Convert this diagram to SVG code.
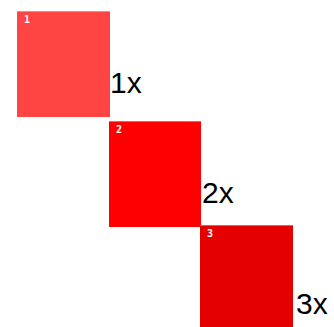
<svg xmlns="http://www.w3.org/2000/svg" width="334" height="327" viewBox="0 0 334 327">
<style>
.num{font-family:"DejaVu Sans Mono","Liberation Mono",monospace;font-weight:bold;font-size:10px;fill:#ffffff}
.lbl{font-family:"Liberation Sans",Arial,sans-serif;font-size:30px;fill:#000000}
.edge{stroke:#ffffff;stroke-opacity:0.35;stroke-width:1;fill:none}
</style>
<rect width="334" height="327" fill="#ffffff"/>
<g id="node1">
<rect x="17" y="11" width="93" height="106" fill="#ff4444"/>
<line class="edge" x1="17" y1="11.5" x2="110" y2="11.5"/>
<text class="num" x="24" y="23">1</text>
<text class="lbl" x="110" y="93">1x</text>
</g>
<g id="node2">
<rect x="109" y="121" width="92" height="106" fill="#ff0000"/>
<line class="edge" x1="109" y1="121.5" x2="201" y2="121.5"/>
<text class="num" x="116" y="133">2</text>
<text class="lbl" x="202" y="203">2x</text>
</g>
<g id="node3">
<rect x="200" y="225" width="93" height="102" fill="#e50000"/>
<line class="edge" x1="200" y1="225.5" x2="293" y2="225.5"/>
<text class="num" x="207" y="237">3</text>
<text class="lbl" x="296" y="314">3x</text>
</g>
<g id="connectors"></g>
</svg>
